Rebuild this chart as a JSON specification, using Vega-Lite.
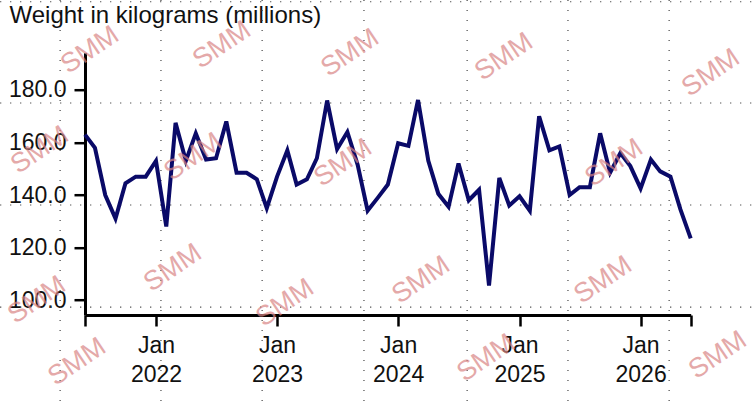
{
  "$schema": "https://vega.github.io/schema/vega-lite/v6.json",
  "width": 605.7,
  "height": 262.3,
  "autosize": {"type": "none"},
  "padding": {"left": 85, "top": 52.7, "right": 61.3, "bottom": 86},
  "background": "white",
  "datasets": {
    "weight": [
      {"date": "2021-06-01", "value": 163},
      {"date": "2021-07-01", "value": 158},
      {"date": "2021-08-01", "value": 140},
      {"date": "2021-09-01", "value": 131},
      {"date": "2021-10-01", "value": 144.5},
      {"date": "2021-11-01", "value": 147},
      {"date": "2021-12-01", "value": 147},
      {"date": "2022-01-01", "value": 153},
      {"date": "2022-02-01", "value": 128},
      {"date": "2022-03-01", "value": 167.5},
      {"date": "2022-04-01", "value": 153},
      {"date": "2022-05-01", "value": 163.5},
      {"date": "2022-06-01", "value": 153.5},
      {"date": "2022-07-01", "value": 154},
      {"date": "2022-08-01", "value": 168},
      {"date": "2022-09-01", "value": 148.5},
      {"date": "2022-10-01", "value": 148.5},
      {"date": "2022-11-01", "value": 146},
      {"date": "2022-12-01", "value": 135},
      {"date": "2023-01-01", "value": 147},
      {"date": "2023-02-01", "value": 157},
      {"date": "2023-03-01", "value": 144},
      {"date": "2023-04-01", "value": 146},
      {"date": "2023-05-01", "value": 154},
      {"date": "2023-06-01", "value": 176},
      {"date": "2023-07-01", "value": 157.5},
      {"date": "2023-08-01", "value": 164},
      {"date": "2023-09-01", "value": 151.5},
      {"date": "2023-10-01", "value": 134},
      {"date": "2023-11-01", "value": 139},
      {"date": "2023-12-01", "value": 144},
      {"date": "2024-01-01", "value": 159.7},
      {"date": "2024-02-01", "value": 158.7},
      {"date": "2024-03-01", "value": 176.2},
      {"date": "2024-04-01", "value": 153},
      {"date": "2024-05-01", "value": 140.5},
      {"date": "2024-06-01", "value": 135.5},
      {"date": "2024-07-01", "value": 152},
      {"date": "2024-08-01", "value": 138},
      {"date": "2024-09-01", "value": 142},
      {"date": "2024-10-01", "value": 105.5},
      {"date": "2024-11-01", "value": 146.5},
      {"date": "2024-12-01", "value": 136},
      {"date": "2025-01-01", "value": 139.5},
      {"date": "2025-02-01", "value": 134},
      {"date": "2025-03-01", "value": 170},
      {"date": "2025-04-01", "value": 157},
      {"date": "2025-05-01", "value": 158.5},
      {"date": "2025-06-01", "value": 140},
      {"date": "2025-07-01", "value": 143},
      {"date": "2025-08-01", "value": 143},
      {"date": "2025-09-01", "value": 163.5},
      {"date": "2025-10-01", "value": 148.5},
      {"date": "2025-11-01", "value": 156},
      {"date": "2025-12-01", "value": 151},
      {"date": "2026-01-01", "value": 142.5},
      {"date": "2026-02-01", "value": 153.5},
      {"date": "2026-03-01", "value": 149},
      {"date": "2026-04-01", "value": 147},
      {"date": "2026-05-01", "value": 134.5},
      {"date": "2026-06-01", "value": 123.5}
    ],
    "watermark": [
      {"date": "2021-06-16", "value": 195.2},
      {"date": "2022-07-19", "value": 197.1},
      {"date": "2023-08-09", "value": 194.1},
      {"date": "2024-11-15", "value": 192.6},
      {"date": "2026-08-01", "value": 186.5},
      {"date": "2021-01-16", "value": 157.1},
      {"date": "2022-04-23", "value": 154.5},
      {"date": "2023-07-19", "value": 152.2},
      {"date": "2025-10-13", "value": 152.2},
      {"date": "2021-01-07", "value": 100},
      {"date": "2022-02-21", "value": 112.2},
      {"date": "2023-01-25", "value": 98.9},
      {"date": "2021-05-08", "value": 76.4},
      {"date": "2024-03-10", "value": 107.6},
      {"date": "2025-09-10", "value": 107.6},
      {"date": "2024-09-22", "value": 77.9},
      {"date": "2026-08-22", "value": 79}
    ],
    "vgrid": [
      {"date": "2021-03-18", "top": 214.3, "bottom": 61.5},
      {"date": "2022-01-16", "top": 214.3, "bottom": 61.5},
      {"date": "2022-11-17", "top": 214.3, "bottom": 61.5},
      {"date": "2023-09-20", "top": 214.3, "bottom": 61.5},
      {"date": "2024-07-27", "top": 214.3, "bottom": 61.5},
      {"date": "2025-05-27", "top": 214.3, "bottom": 61.5},
      {"date": "2026-03-28", "top": 214.3, "bottom": 61.5}
    ],
    "hgrid": [
      {"value": 213.6, "from": "2020-09-18", "to": "2026-12-03"},
      {"value": 175.05, "from": "2020-09-18", "to": "2026-12-03"},
      {"value": 136.2, "from": "2020-09-18", "to": "2026-12-03"},
      {"value": 97.3, "from": "2020-09-18", "to": "2026-12-03"}
    ]
  },
  "layer": [
    {
      "data": {"name": "vgrid"},
      "mark": {"type": "rule", "color": "#444444", "strokeWidth": 1.2, "strokeDash": [1.2, 8.8]},
      "encoding": {
        "x": {"field": "date", "type": "temporal"},
        "y": {"field": "top", "type": "quantitative"},
        "y2": {"field": "bottom"}
      }
    },
    {
      "data": {"name": "hgrid"},
      "mark": {"type": "rule", "color": "#444444", "strokeWidth": 1.2, "strokeDash": [1.2, 8.8]},
      "encoding": {
        "x": {"field": "from", "type": "temporal"},
        "x2": {"field": "to"},
        "y": {"field": "value", "type": "quantitative"}
      }
    },
    {
      "data": {"name": "weight"},
      "mark": {"type": "line", "color": "#0a0a68", "strokeWidth": 4, "strokeJoin": "miter"},
      "encoding": {
        "x": {
          "field": "date",
          "type": "temporal",
          "scale": {
            "type": "utc",
            "nice": false,
            "domain": [
              {"year": 2021, "month": 6, "date": 1, "utc": true},
              {"year": 2026, "month": 6, "date": 1, "utc": true}
            ]
          },
          "axis": {
            "title": null,
            "values": [
              {"year": 2021, "month": 6, "date": 1, "utc": true},
              {"year": 2022, "month": 1, "date": 1, "utc": true},
              {"year": 2023, "month": 1, "date": 1, "utc": true},
              {"year": 2024, "month": 1, "date": 1, "utc": true},
              {"year": 2025, "month": 1, "date": 1, "utc": true},
              {"year": 2026, "month": 1, "date": 1, "utc": true},
              {"year": 2026, "month": 6, "date": 1, "utc": true}
            ],
            "labelExpr": "utcFormat(datum.value, '%m') == '01' ? [utcFormat(datum.value, '%b'), utcFormat(datum.value, '%Y')] : ''",
            "grid": false,
            "domainColor": "black",
            "domainWidth": 3,
            "tickColor": "black",
            "tickWidth": 2.5,
            "tickSize": 11,
            "labelFont": "Liberation Sans",
            "labelFontSize": 23,
            "labelColor": "#111111",
            "labelPadding": 8,
            "labelLineHeight": 29,
            "labelFlush": false,
            "labelOverlap": false
          }
        },
        "y": {
          "field": "value",
          "type": "quantitative",
          "scale": {"domain": [94.3, 194.2], "nice": false, "zero": false},
          "axis": {
            "title": "Weight in kilograms (millions)",
            "titleAngle": 0,
            "titleAlign": "left",
            "titleBaseline": "alphabetic",
            "titleX": -76,
            "titleY": -30,
            "titleFont": "Liberation Sans",
            "titleFontSize": 24,
            "titleFontWeight": "normal",
            "titleColor": "#111111",
            "values": [100, 120, 140, 160, 180],
            "format": ".1f",
            "grid": false,
            "domainColor": "black",
            "domainWidth": 3,
            "tickColor": "black",
            "tickWidth": 2.5,
            "tickSize": 11,
            "labelFont": "Liberation Sans",
            "labelFontSize": 23,
            "labelColor": "#111111",
            "labelPadding": 8
          }
        }
      }
    },
    {
      "data": {"name": "watermark"},
      "mark": {
        "type": "text",
        "text": "SMM",
        "angle": -34,
        "font": "Liberation Sans",
        "fontSize": 27,
        "color": "#d98585",
        "opacity": 0.7,
        "align": "center",
        "baseline": "middle"
      },
      "encoding": {
        "x": {"field": "date", "type": "temporal"},
        "y": {"field": "value", "type": "quantitative"}
      }
    }
  ],
  "config": {
    "view": {"stroke": null}
  }
}
